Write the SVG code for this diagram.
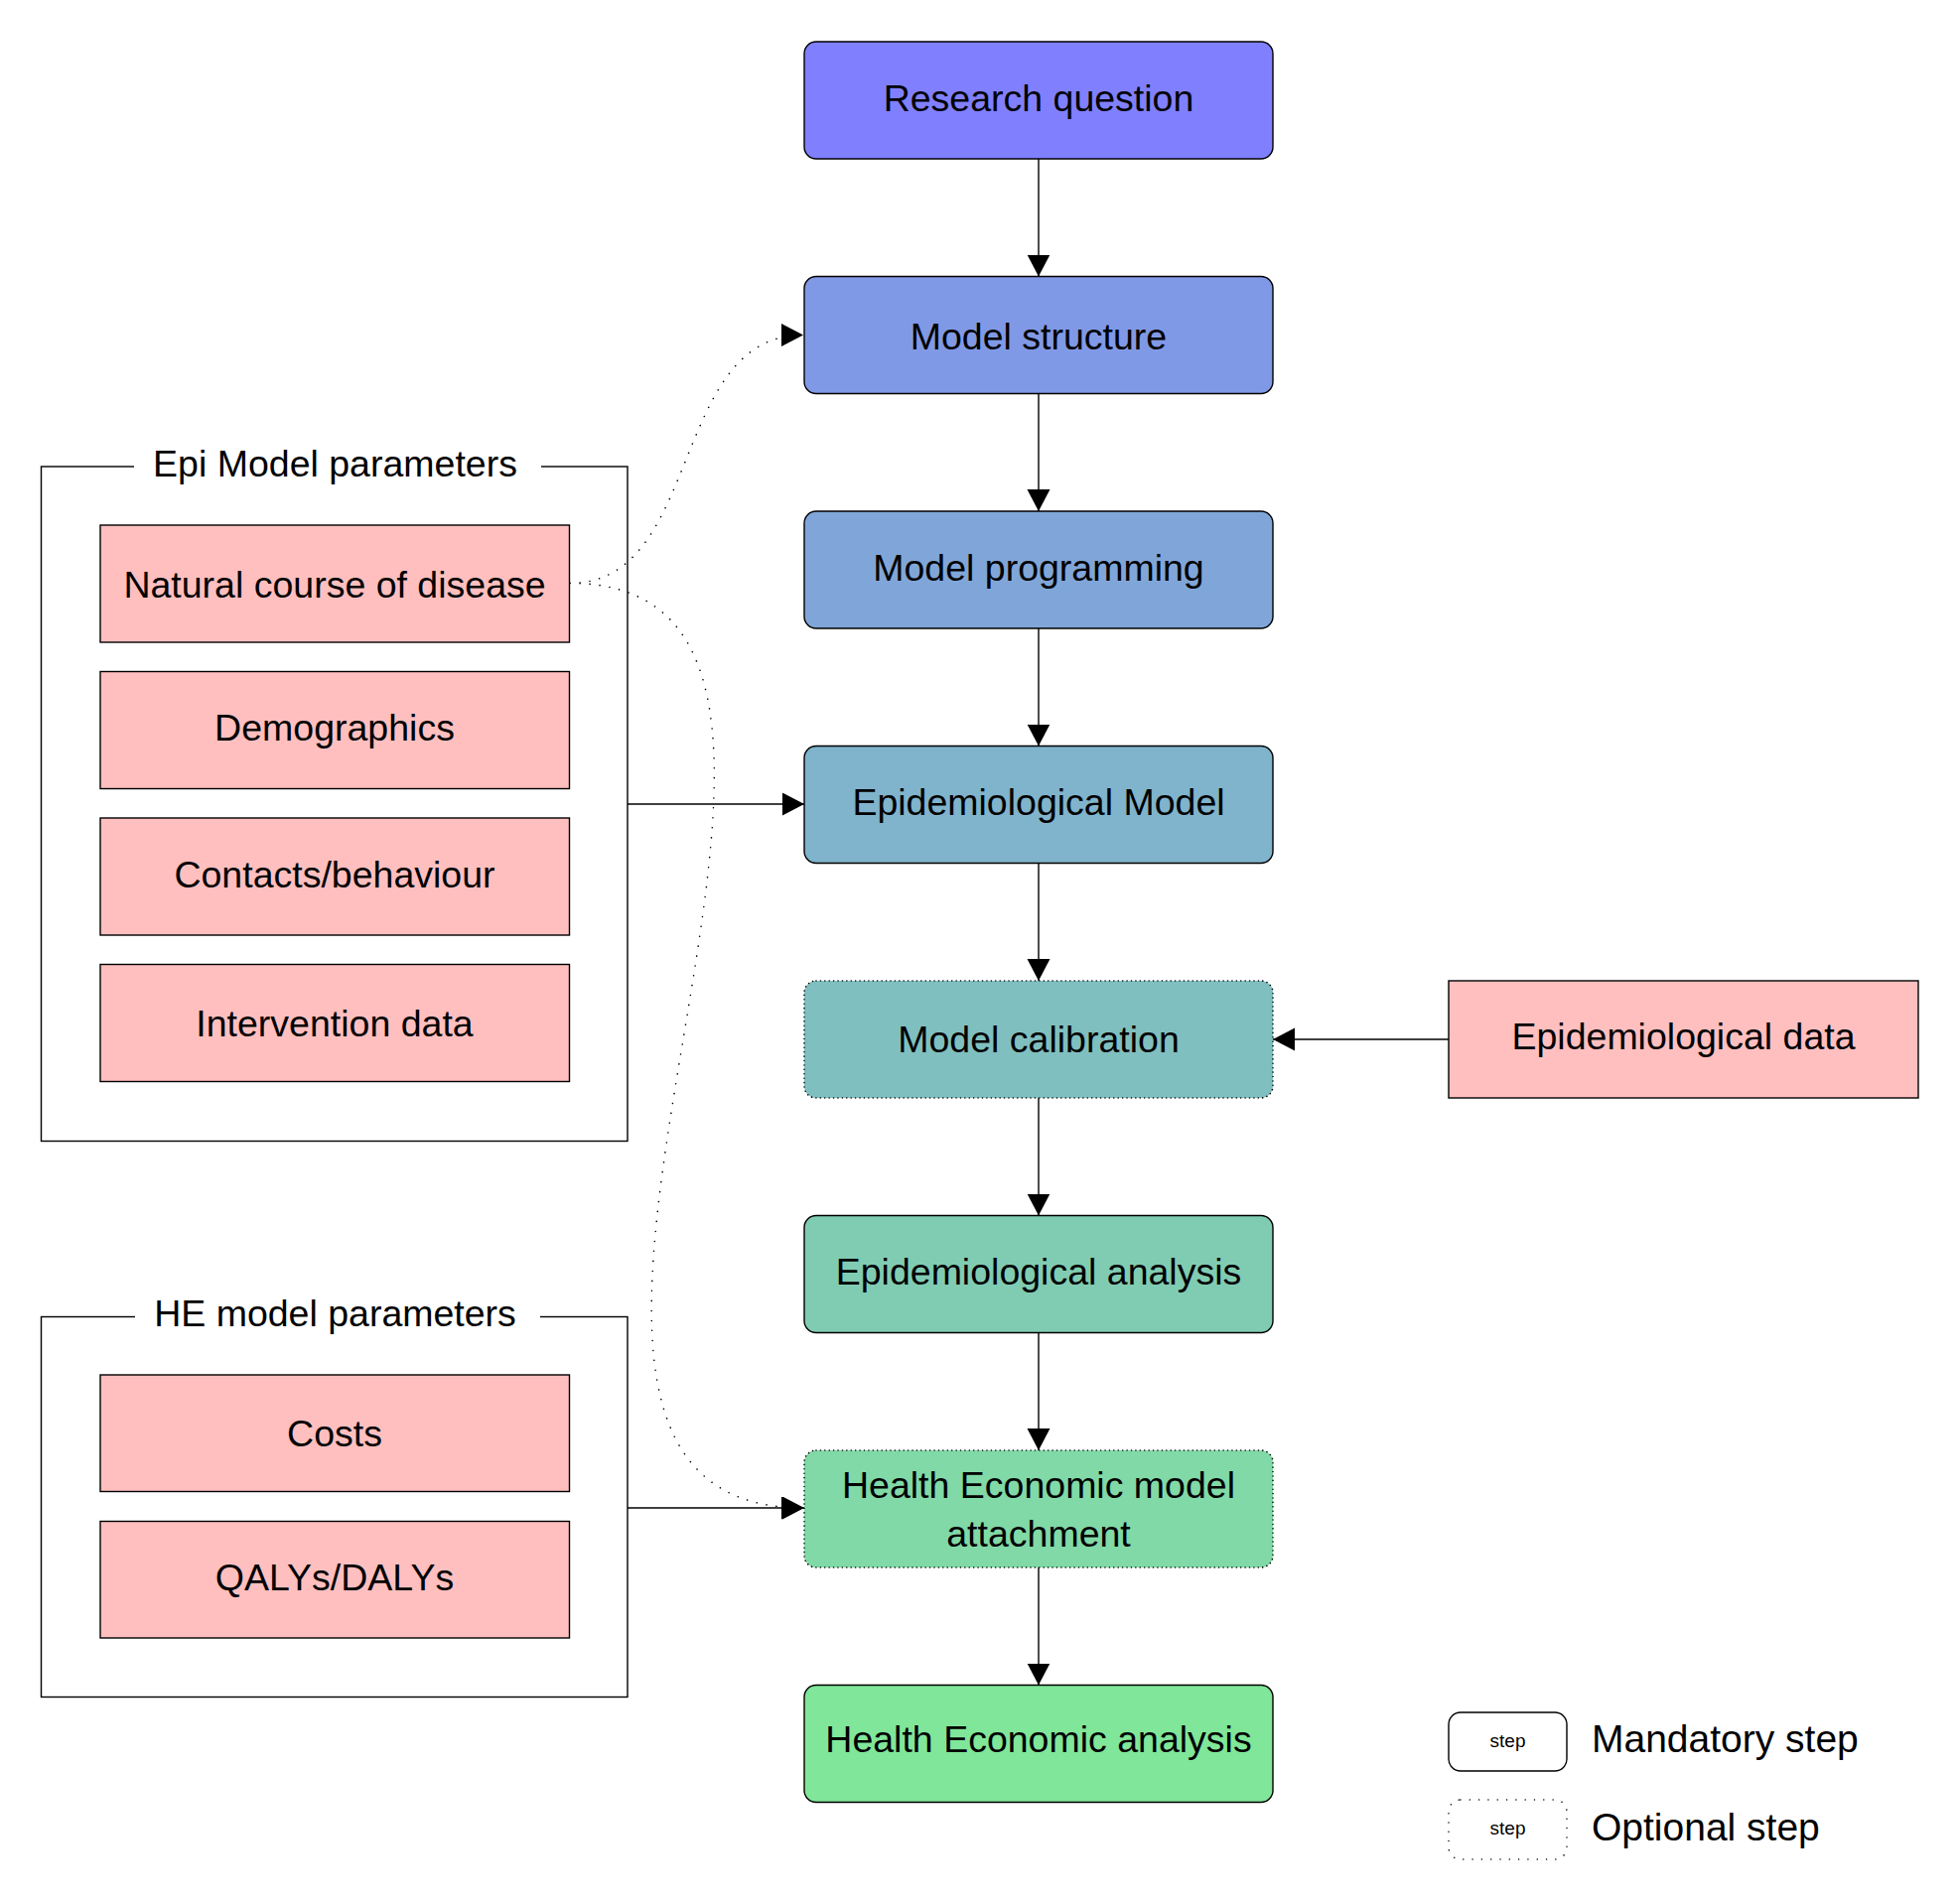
<svg xmlns="http://www.w3.org/2000/svg" width="1974" height="1917" viewBox="0 0 1974 1917">
  <defs>
    <marker id="arrow" markerUnits="userSpaceOnUse" markerWidth="24" markerHeight="24" refX="22" refY="11.5" orient="auto">
      <path d="M0,0 L22,11.5 L0,23 Z" fill="#000"/>
    </marker>
    <style>
      text { font-family: "Liberation Sans", Arial, sans-serif; font-size: 37.5px; fill: #000; text-anchor: middle; }
      .step { stroke: #000; stroke-width: 1.4; }
      .optional { stroke-dasharray: 0.01 4.4; stroke-linecap: round; stroke-width: 1.6; }
      .param { fill: #FFBFBF; stroke: #000; stroke-width: 1.4; }
      .group { fill: none; stroke: #000; stroke-width: 1.4; }
      .edge { fill: none; stroke: #000; stroke-width: 1.4; marker-end: url(#arrow); }
      .dotted { fill: none; stroke: #000; stroke-width: 1.6; stroke-linecap: round; stroke-dasharray: 0.01 10; marker-end: url(#arrow); }
      .legend { text-anchor: start; font-size: 39px; }
      .small { font-size: 19px; }
    </style>
  </defs>
  <rect width="1974" height="1917" fill="#fff"/>

  <!-- parameter groups -->
  <g id="epi-params">
    <rect class="group" x="41.5" y="470" width="590.5" height="679.5"/>
    <rect x="135" y="445" width="410" height="50" fill="#fff"/>
    <text x="337.5" y="479.5">Epi Model parameters</text>
  </g>
  <g id="natural-course">
    <rect class="param" x="101" y="529" width="472.5" height="118"/>
    <text x="337" y="601.5">Natural course of disease</text>
  </g>
  <g id="demographics">
    <rect class="param" x="101" y="676.5" width="472.5" height="118"/>
    <text x="337" y="746">Demographics</text>
  </g>
  <g id="contacts">
    <rect class="param" x="101" y="824" width="472.5" height="118"/>
    <text x="337" y="893.5">Contacts/behaviour</text>
  </g>
  <g id="intervention">
    <rect class="param" x="101" y="971.5" width="472.5" height="118"/>
    <text x="337" y="1044">Intervention data</text>
  </g>

  <g id="he-params">
    <rect class="group" x="41.5" y="1326.5" width="590.5" height="383"/>
    <rect x="136" y="1300" width="408" height="50" fill="#fff"/>
    <text x="337.5" y="1335.5">HE model parameters</text>
  </g>
  <g id="costs">
    <rect class="param" x="101" y="1385" width="472.5" height="117.5"/>
    <text x="337" y="1456.5">Costs</text>
  </g>
  <g id="qalys">
    <rect class="param" x="101" y="1532.5" width="472.5" height="117.5"/>
    <text x="337" y="1602">QALYs/DALYs</text>
  </g>

  <!-- main pipeline -->
  <g id="research-question">
    <rect class="step" x="810" y="42" width="472" height="118" rx="12" fill="#8080FF"/>
    <text x="1046" y="111.5">Research question</text>
  </g>
  <g id="model-structure">
    <rect class="step" x="810" y="278.5" width="472" height="118" rx="12" fill="#8099E6"/>
    <text x="1046" y="351.5">Model structure</text>
  </g>
  <g id="model-programming">
    <rect class="step" x="810" y="515" width="472" height="118" rx="12" fill="#80A6D9"/>
    <text x="1046" y="584.5">Model programming</text>
  </g>
  <g id="epi-model">
    <rect class="step" x="810" y="751.5" width="472" height="118" rx="12" fill="#80B3CC"/>
    <text x="1046" y="821">Epidemiological Model</text>
  </g>
  <g id="model-calibration">
    <rect class="step optional" x="810" y="988" width="472" height="118" rx="12" fill="#80BFBF"/>
    <text x="1046" y="1060">Model calibration</text>
  </g>
  <g id="epi-analysis">
    <rect class="step" x="810" y="1224.5" width="472" height="118" rx="12" fill="#80CCB3"/>
    <text x="1046" y="1294">Epidemiological analysis</text>
  </g>
  <g id="he-attachment">
    <rect class="step optional" x="810" y="1461" width="472" height="118" rx="12" fill="#80D9A6"/>
    <text x="1046" y="1508.5">Health Economic model</text>
    <text x="1046" y="1557.5">attachment</text>
  </g>
  <g id="he-analysis">
    <rect class="step" x="810" y="1697.5" width="472" height="118" rx="12" fill="#80E699"/>
    <text x="1046" y="1765">Health Economic analysis</text>
  </g>

  <g id="epi-data">
    <rect class="param" x="1459" y="988" width="473" height="118"/>
    <text x="1695.5" y="1057">Epidemiological data</text>
  </g>

  <!-- connectors -->
  <g id="connectors">
    <line class="edge" x1="1046" y1="160" x2="1046" y2="278.5"/>
    <line class="edge" x1="1046" y1="396.5" x2="1046" y2="515"/>
    <line class="edge" x1="1046" y1="633" x2="1046" y2="751.5"/>
    <line class="edge" x1="1046" y1="869.5" x2="1046" y2="988"/>
    <line class="edge" x1="1046" y1="1106" x2="1046" y2="1224.5"/>
    <line class="edge" x1="1046" y1="1342.5" x2="1046" y2="1461"/>
    <line class="edge" x1="1046" y1="1579" x2="1046" y2="1697.5"/>
    <line class="edge" x1="632" y1="810" x2="810" y2="810"/>
    <line class="edge" x1="632" y1="1519" x2="810" y2="1519"/>
    <line class="edge" x1="1459" y1="1047" x2="1282" y2="1047"/>
    <path class="dotted" d="M574,587.5 C708,587.5 674,337.5 809,337.5"/>
    <path class="dotted" d="M574,587.5 C958,587.5 413,1519 809,1519"/>
  </g>

  <!-- legend -->
  <g id="legend-mandatory">
    <rect class="step" x="1459" y="1725" width="119" height="59" rx="12" fill="#fff"/>
    <text class="small" x="1518.5" y="1760">step</text>
    <text class="legend" x="1603" y="1765">Mandatory step</text>
  </g>
  <g id="legend-optional">
    <rect x="1459" y="1813" width="119" height="60" rx="12" fill="#fff" stroke="#000" stroke-width="1.5" stroke-linecap="round" stroke-dasharray="0.01 9.3"/>
    <text class="small" x="1518.5" y="1848">step</text>
    <text class="legend" x="1603" y="1854">Optional step</text>
  </g>
</svg>
